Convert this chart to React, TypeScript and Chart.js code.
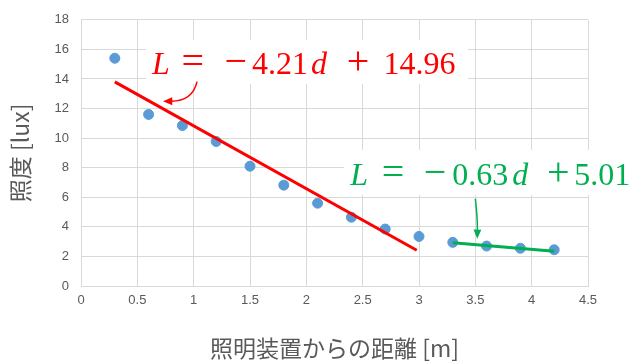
import React, { useEffect, useRef } from "react";
import { Chart, registerables } from "chart.js";

Chart.register(...registerables);

const distances = [0.3, 0.6, 0.9, 1.2, 1.5, 1.8, 2.1, 2.4, 2.7, 3.0, 3.3, 3.6, 3.9, 4.2];
const illuminance = [15.4, 11.6, 10.85, 9.77, 8.1, 6.82, 5.6, 4.65, 3.85, 3.35, 2.95, 2.7, 2.55, 2.45];
const redFitX = [0.3, 2.98];
const redFitY = [13.8, 2.42];
const greenFitX = [3.3, 4.2];
const greenFitY = [2.92, 2.35];
const xTitle = "照明装置からの距離 [m]";
const yTitle = "照度 [lux]";

// equation labels: [text, kind] kind: "i" italic serif, "n" upright serif, "o" operator
const redEq: [string, string][] = [["L", "i"], ["=", "o"], ["−", "o"], ["4.21", "n"], ["d", "i"], ["+", "o"], ["14.96", "n"]];
const redEqOffsets = [0, 29.6, 72.6, 100, 159, 194.8, 231.5];
const greenEq: [string, string][] = [["L", "i"], ["=", "o"], ["−", "o"], ["0.63", "n"], ["d", "i"], ["+", "o"], ["5.01", "n"]];
const greenEqOffsets = [0, 31.6, 73.6, 102, 162, 196.8, 224];

const fontFor = (k: string) =>
  k === "i"
    ? 'italic 32px "Liberation Serif", serif'
    : k === "o"
    ? '40px "Liberation Serif", serif'
    : '32px "Liberation Serif", serif';

const annotationPlugin = {
  id: "eqAnnotations",
  afterDatasetsDraw(chart: any) {
    const ctx = chart.ctx as CanvasRenderingContext2D;
    const xs = chart.scales.x;
    const ys = chart.scales.y;
    const px = (v: number) => xs.getPixelForValue(v);
    const py = (v: number) => ys.getPixelForValue(v);

    const drawEq = (parts: [string, string][], offs: number[], ax: number, ay: number, color: string, box: [number, number, number, number]) => {
      ctx.save();
      ctx.fillStyle = "#ffffff";
      ctx.fillRect(ax + box[0], ay + box[1], box[2], box[3]);
      ctx.fillStyle = color;
      ctx.textBaseline = "alphabetic";
      ctx.textAlign = "left";
      parts.forEach(([t, k], i) => {
        ctx.font = fontFor(k);
        ctx.fillText(t, ax + offs[i], ay);
      });
      ctx.restore();
    };

    const rx = px(0.63), ry = py(14.35);
    drawEq(redEq, redEqOffsets, rx, ry, "#ff0000", [-6, -34, 322, 44]);
    const gx = px(2.39), gy = py(6.84);
    drawEq(greenEq, greenEqOffsets, gx, gy, "#00b050", [-6, -35, 300, 45]);

    const arrow = (x0: number, y0: number, cx: number, cy: number, x1: number, y1: number, color: string) => {
      ctx.save();
      ctx.strokeStyle = color;
      ctx.fillStyle = color;
      ctx.lineWidth = 1.5;
      const ang = Math.atan2(y1 - cy, x1 - cx);
      const hl = 10;
      const bx = x1 - Math.cos(ang) * hl * 0.8;
      const by = y1 - Math.sin(ang) * hl * 0.8;
      ctx.beginPath();
      ctx.moveTo(x0, y0);
      ctx.quadraticCurveTo(cx, cy, bx, by);
      ctx.stroke();
      ctx.beginPath();
      ctx.moveTo(x1, y1);
      ctx.lineTo(x1 - Math.cos(ang - 0.4) * hl, y1 - Math.sin(ang - 0.4) * hl);
      ctx.lineTo(x1 - Math.cos(ang + 0.4) * hl, y1 - Math.sin(ang + 0.4) * hl);
      ctx.closePath();
      ctx.fill();
      ctx.restore();
    };
    arrow(px(1.03), py(13.82), px(0.99), py(12.5), px(0.728), py(12.49), "#ff0000");
    arrow(px(3.5), py(5.91), px(3.52), py(4.6), px(3.517), py(3.19), "#00b050");
  },
};

export default function App() {
  const ref = useRef<HTMLCanvasElement | null>(null);
  useEffect(() => {
    if (!ref.current) return;
    const tickFont = { family: '"Liberation Sans", sans-serif', size: 13 };
    const titleFont = { family: '"Noto Sans CJK JP", sans-serif', size: 23 };
    const chart = new Chart(ref.current, {
      type: "scatter",
      data: {
        datasets: [
          {
            label: "fitRed",
            type: "line",
            data: redFitX.map((x, i) => ({ x, y: redFitY[i] })),
            borderColor: "#ff0000",
            borderWidth: 3,
            pointRadius: 0,
            order: 1,
          } as any,
          {
            label: "fitGreen",
            type: "line",
            data: greenFitX.map((x, i) => ({ x, y: greenFitY[i] })),
            borderColor: "#00b050",
            borderWidth: 3,
            pointRadius: 0,
            order: 1,
          } as any,
          {
            label: "data",
            data: distances.map((x, i) => ({ x, y: illuminance[i] })),
            backgroundColor: "#5b9bd5",
            borderColor: "#5b9bd5",
            pointRadius: 5,
            order: 2,
          },
        ],
      },
      options: {
        responsive: false,
        animation: false,
        events: [],
        layout: { padding: { top: 15, right: 46, left: 0, bottom: 0 } },
        plugins: { legend: { display: false }, tooltip: { enabled: false } },
        scales: {
          x: {
            type: "linear",
            min: 0,
            max: 4.5,
            ticks: {
              stepSize: 0.5,
              color: "#595959",
              font: tickFont,
              padding: 7,
              callback: (v: any) => String(Number(v)),
            },
            grid: { color: "#d9d9d9", drawTicks: false },
            border: { color: "#d9d9d9" },
            title: {
              display: true,
              text: xTitle,
              color: "#595959",
              font: titleFont,
              padding: { top: 0, bottom: 1 },
            },
            afterFit(scale: any) {
              scale.height = 77;
            },
          },
          y: {
            min: 0,
            max: 18,
            ticks: { stepSize: 2, color: "#595959", font: tickFont, padding: 12 },
            grid: { color: "#d9d9d9", drawTicks: false },
            border: { color: "#d9d9d9" },
            title: {
              display: true,
              text: yTitle,
              color: "#595959",
              font: titleFont,
              padding: { top: 6, bottom: 0 },
            },
            afterFit(scale: any) {
              scale.width = 81;
            },
          },
        },
      },
      plugins: [annotationPlugin],
    });
    return () => chart.destroy();
  }, []);
  return (
    <div style={{ position: "absolute", left: 0, top: 0, width: 634, height: 363, background: "#fff" }}>
      <canvas ref={ref} width={634} height={363} />
    </div>
  );
}
